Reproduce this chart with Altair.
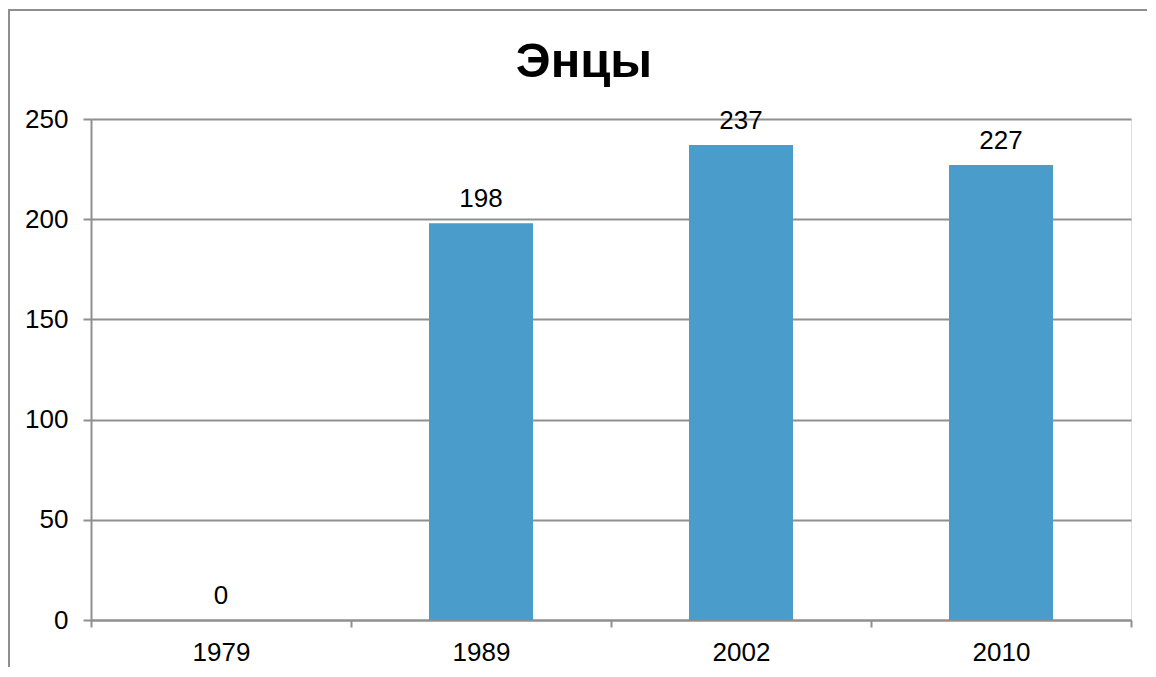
import altair as alt
import pandas as pd

years = ["1979", "1989", "2002", "2010"]
values = [0, 198, 237, 227]
title_text = "Энцы"

df = pd.DataFrame({"year": years, "value": values})

FONT = "Liberation Sans"
GRAY = "#8f8f8f"

x = alt.X("year:N", sort=years, title=None,
          scale=alt.Scale(paddingInner=0, paddingOuter=0),
          axis=alt.Axis(labelAngle=0, labelFontSize=26, labelFont=FONT, labelColor="black",
                        labelPadding=12, tickBand="extent", tickSize=7, tickColor=GRAY,
                        tickWidth=2, domainColor=GRAY, domainWidth=2, grid=False))
y = alt.Y("value:Q", title=None,
          scale=alt.Scale(domain=[0, 250], nice=False),
          axis=alt.Axis(values=[0, 50, 100, 150, 200, 250], labelFontSize=26, labelFont=FONT,
                        labelColor="black", labelPadding=15, tickSize=8, tickColor=GRAY,
                        tickWidth=2, domainColor=GRAY, domainWidth=2,
                        grid=True, gridColor=GRAY, gridWidth=2))

bars = alt.Chart(df).mark_bar(color="#4A9CCB", width=alt.RelativeBandSize(0.4)).encode(x=x, y=y)
labels = alt.Chart(df).mark_text(fontSize=26, font=FONT, color="black",
                                 baseline="bottom", dy=-11).encode(
    x=alt.X("year:N", sort=years), y="value:Q", text="value:Q")

one = pd.DataFrame({"k": [0]})
border_top = alt.Chart(one).mark_rule(stroke=GRAY, strokeWidth=2, clip=False).encode(
    x=alt.value(-83), x2=alt.value(1100), y=alt.value(-109))
border_left = alt.Chart(one).mark_rule(stroke=GRAY, strokeWidth=2, clip=False).encode(
    x=alt.value(-82), y=alt.value(-110), y2=alt.value(600))

title = alt.Chart(pd.DataFrame({"t": [title_text]})).mark_text(
    fontSize=49, font=FONT, fontWeight="bold", color="black",
    align="center", baseline="middle", clip=False).encode(
    text="t:N", x=alt.value(493), y=alt.value(-57))

chart = alt.layer(border_top, border_left, bars, labels, title).properties(
    width=1040, height=501,
    autosize=alt.AutoSizeParams(type="none"),
    padding={"left": 83, "top": 111, "right": 16, "bottom": 47},
).configure_view(stroke=None).configure(background="white")

chart.save("out.html", embed_options={"renderer": "svg", "actions": False})
